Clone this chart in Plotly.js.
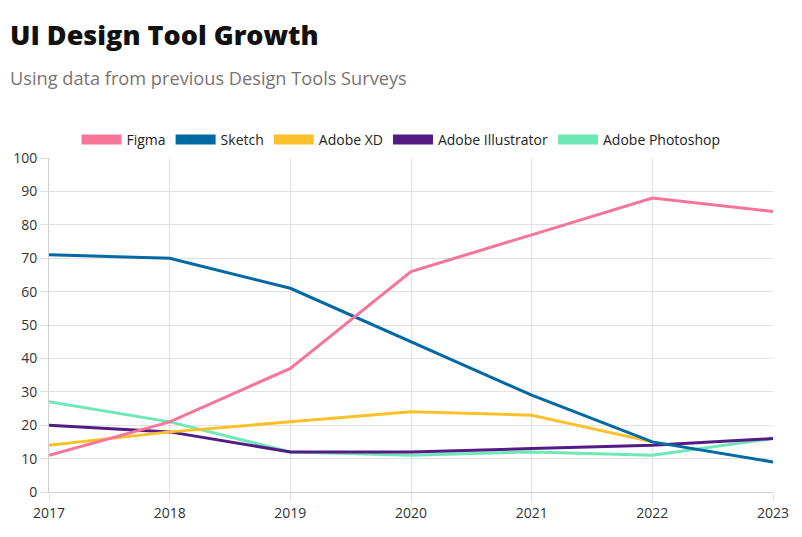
<!DOCTYPE html>
<html>
<head>
<meta charset="utf-8">
<script src="https://cdn.plot.ly/plotly-3.0.1.min.js"></script>
<style>html,body{margin:0;padding:0;background:#fff}#chart{width:802px;height:537px}</style>
</head>
<body>
<div id="chart"></div>
<script>
const years = ['2017','2018','2019','2020','2021','2022','2023'];
const seriesNames = ['Figma','Sketch','Adobe XD','Adobe Illustrator','Adobe Photoshop'];
const figma = [11, 21, 37, 66, 77, 88, 84];
const sketch = [71, 70, 61, 45, 29, 15, 9];
const adobeXD = [14, 18, 21, 24, 23, 15, null];
const adobeIllustrator = [20, 18, 12, 12, 13, 14, 16];
const adobePhotoshop = [27, 21, 12, 11, 12, 11, 16];
const colors = ['#f67599', '#0069a4', '#fcc12a', '#541b86', '#6ee8b7'];
const values = [figma, sketch, adobeXD, adobeIllustrator, adobePhotoshop];

const traces = [];
for (let i = values.length - 1; i >= 0; i--) {
  traces.push({
    x: years, y: values[i], type: 'scatter', mode: 'lines', name: seriesNames[i],
    line: {color: colors[i], width: 3}, showlegend: false, connectgaps: false
  });
}
// legend entries (no data, boxes only)
for (let i = 0; i < values.length; i++) {
  traces.push({
    x: [null], y: [null], type: 'scatter', mode: 'lines', name: seriesNames[i],
    line: {color: colors[i], width: 12}, showlegend: true
  });
}

const layout = {
  width: 802, height: 537,
  paper_bgcolor: '#fff', plot_bgcolor: '#fff',
  margin: {l: 49, r: 29, t: 158, b: 45},
  font: {family: 'Open Sans, Noto Sans, sans-serif', size: 14, color: '#333'},
  title: {
    text: 'UI Design Tool Growth',
    font: {family: 'Open Sans, sans-serif', size: 27, weight: 800, color: '#111'},
    x: 10/802, xanchor: 'left', xref: 'container',
    y: 1 - 26/537, yanchor: 'top', yref: 'container'
  },
  annotations: [{
    text: 'Using data from previous Design Tools Surveys', showarrow: false,
    xref: 'paper', yref: 'paper', x: -41/724, y: 1 + (158 - 64)/334,
    xanchor: 'left', yanchor: 'top',
    font: {family: 'Open Sans, Noto Sans, sans-serif', size: 18.2, color: '#7a7471'}
  }],
  showlegend: true,
  legend: {orientation: 'h', x: 0.5, xanchor: 'center', xref: 'container',
    y: 1 - 124/537, yanchor: 'top', yref: 'container',
    font: {size: 14, color: '#222'}, itemwidth: 40, traceorder: 'normal', itemclick: false},
  xaxis: {
    type: 'category', range: [0, 6], tickvals: years, ticktext: years,
    showgrid: true, gridcolor: '#e2e2e2', gridwidth: 1,
    showline: true, linecolor: '#d0d0d0', linewidth: 1,
    ticks: 'outside', ticklen: 8, tickcolor: '#e2e2e2',
    tickfont: {size: 14, color: '#333'}, zeroline: false, fixedrange: true
  },
  yaxis: {
    range: [0, 100], dtick: 10, tick0: 0,
    showgrid: true, gridcolor: '#e2e2e2', gridwidth: 1,
    showline: true, linecolor: '#d0d0d0', linewidth: 1,
    ticks: 'outside', ticklen: 8, tickcolor: '#e2e2e2',
    tickfont: {size: 14, color: '#333'}, zeroline: false, fixedrange: true
  }
};
Plotly.newPlot('chart', traces, layout, {displayModeBar: false, staticPlot: true});
</script>
</body>
</html>
